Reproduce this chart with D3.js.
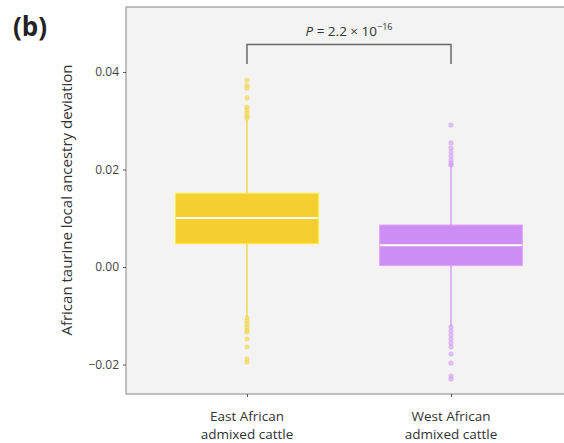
<!DOCTYPE html>
<html><head><meta charset="utf-8">
<script src="https://cdn.jsdelivr.net/npm/d3@7"></script>
<style>body{margin:0;background:#fff;}svg{display:block;}text{font-family:"Open Sans","Noto Sans",sans-serif;}</style>
</head><body><div id="chart"></div>
<script>
const categories = ["East African|admixed cattle", "West African|admixed cattle"];
const colors = ["#f4cf2f", "#cc8ef4"];
const q1 = [0.00478, 0.00027];
const medians = [0.01005, 0.00445];
const q3 = [0.01512, 0.00862];
const whiskerLow = [-0.0103, -0.0122];
const whiskerHigh = [0.0302, 0.0209];
const outliersEast = [0.03836, 0.03733, 0.03672, 0.03467, 0.03282, 0.03221, 0.03159, 0.03097, 0.03056,
  -0.01046, -0.01108, -0.01169, -0.01231, -0.01292, -0.01333, -0.01477, -0.01641, -0.01887, -0.01949];
const outliersWest = [0.02913, 0.02544, 0.02441, 0.02359, 0.02277, 0.02195, 0.02133, 0.02092,
  -0.01231, -0.01313, -0.01395, -0.01477, -0.01559, -0.01641, -0.01785, -0.01969, -0.02236, -0.02297];
const outliers = [outliersEast, outliersWest];
const yTicks = [-0.02, 0.00, 0.02, 0.04];

const W = 564, H = 443;
const m = {left: 126, top: 7, right: -8, bottom: 49};
const svg = d3.select("#chart").append("svg").attr("width", W).attr("height", H);

const y = d3.scaleLinear().domain([-0.02605, 0.05333]).range([H - m.bottom, m.top]);
const x = d3.scalePoint().domain(categories).range([m.left, W - m.right]).padding(0.593);
const bw = 0.7 * x.step();

// panel
svg.append("rect").attr("x", m.left).attr("y", m.top)
  .attr("width", W - m.right - m.left).attr("height", H - m.bottom - m.top)
  .attr("fill", "#f3f3f3").attr("stroke", "#9a9a9a").attr("stroke-width", 1.2);

// y axis
const yAxis = d3.axisLeft(y).tickValues(yTicks).tickSize(3).tickPadding(4)
  .tickFormat(d => (d < 0 ? "\u2212" : "") + Math.abs(d).toFixed(2));
const gy = svg.append("g").attr("transform", `translate(${m.left},0)`).call(yAxis);
gy.select(".domain").remove();
gy.selectAll(".tick line").attr("stroke", "#555");
gy.selectAll(".tick text").attr("fill", "#444").style("font-size", "12px");

// x axis
const xAxis = d3.axisBottom(x).tickSize(3).tickFormat("");
const gx = svg.append("g").attr("transform", `translate(0,${H - m.bottom})`).call(xAxis);
gx.select(".domain").remove();
gx.selectAll(".tick line").attr("stroke", "#555");
categories.forEach(c => {
  const parts = c.split("|");
  const t = svg.append("text").attr("text-anchor", "middle")
    .attr("fill", "#333").style("font-size", "13.5px");
  t.append("tspan").attr("x", x(c)).attr("y", 421).text(parts[0]);
  t.append("tspan").attr("x", x(c)).attr("y", 439).text(parts[1]);
});

// y title
svg.append("text").attr("transform", `translate(72,200) rotate(-90)`)
  .attr("text-anchor", "middle").attr("fill", "#333").style("font-size", "15px")
  .text("African taurine local ancestry deviation");

// boxes
categories.forEach((c, i) => {
  const g = svg.append("g");
  const xc = x(c);
  g.append("line").attr("x1", xc).attr("x2", xc).attr("y1", y(whiskerLow[i])).attr("y2", y(whiskerHigh[i]))
    .attr("stroke", colors[i]).attr("stroke-width", 1.2);
  g.selectAll("circle").data(outliers[i]).join("circle")
    .attr("cx", xc).attr("cy", d => y(d)).attr("r", 2.6)
    .attr("fill", colors[i]).attr("fill-opacity", 0.55);
  g.append("rect").attr("x", xc - bw / 2).attr("width", bw)
    .attr("y", y(q3[i])).attr("height", y(q1[i]) - y(q3[i]))
    .attr("fill", colors[i]).attr("stroke", d3.color(colors[i]).brighter(0.4)).attr("stroke-width", 1);
  g.append("line").attr("x1", xc - bw / 2 + 0.5).attr("x2", xc + bw / 2 - 0.5)
    .attr("y1", y(medians[i])).attr("y2", y(medians[i]))
    .attr("stroke", "#ffffff").attr("stroke-width", 2);
});

// significance bracket
const bx1 = x(categories[0]), bx2 = x(categories[1]);
svg.append("path").attr("d", `M${bx1},64V44.5H${bx2}V64`).attr("fill", "none")
  .attr("stroke", "#6a6a6a").attr("stroke-width", 1.5);
const pt = svg.append("text").attr("x", (bx1 + bx2) / 2).attr("y", 36).attr("text-anchor", "middle")
  .attr("fill", "#333").style("font-size", "13.5px");
pt.append("tspan").attr("font-style", "italic").text("P");
pt.append("tspan").text(" = 2.2 \u00d7 10");
pt.append("tspan").attr("dy", -6).style("font-size", "9px").text("\u221216");

// panel label
svg.append("text").attr("x", 13).attr("y", 36).attr("fill", "#222")
  .style("font-size", "26px").style("font-weight", "bold").text("(b)");
</script>
</body></html>
